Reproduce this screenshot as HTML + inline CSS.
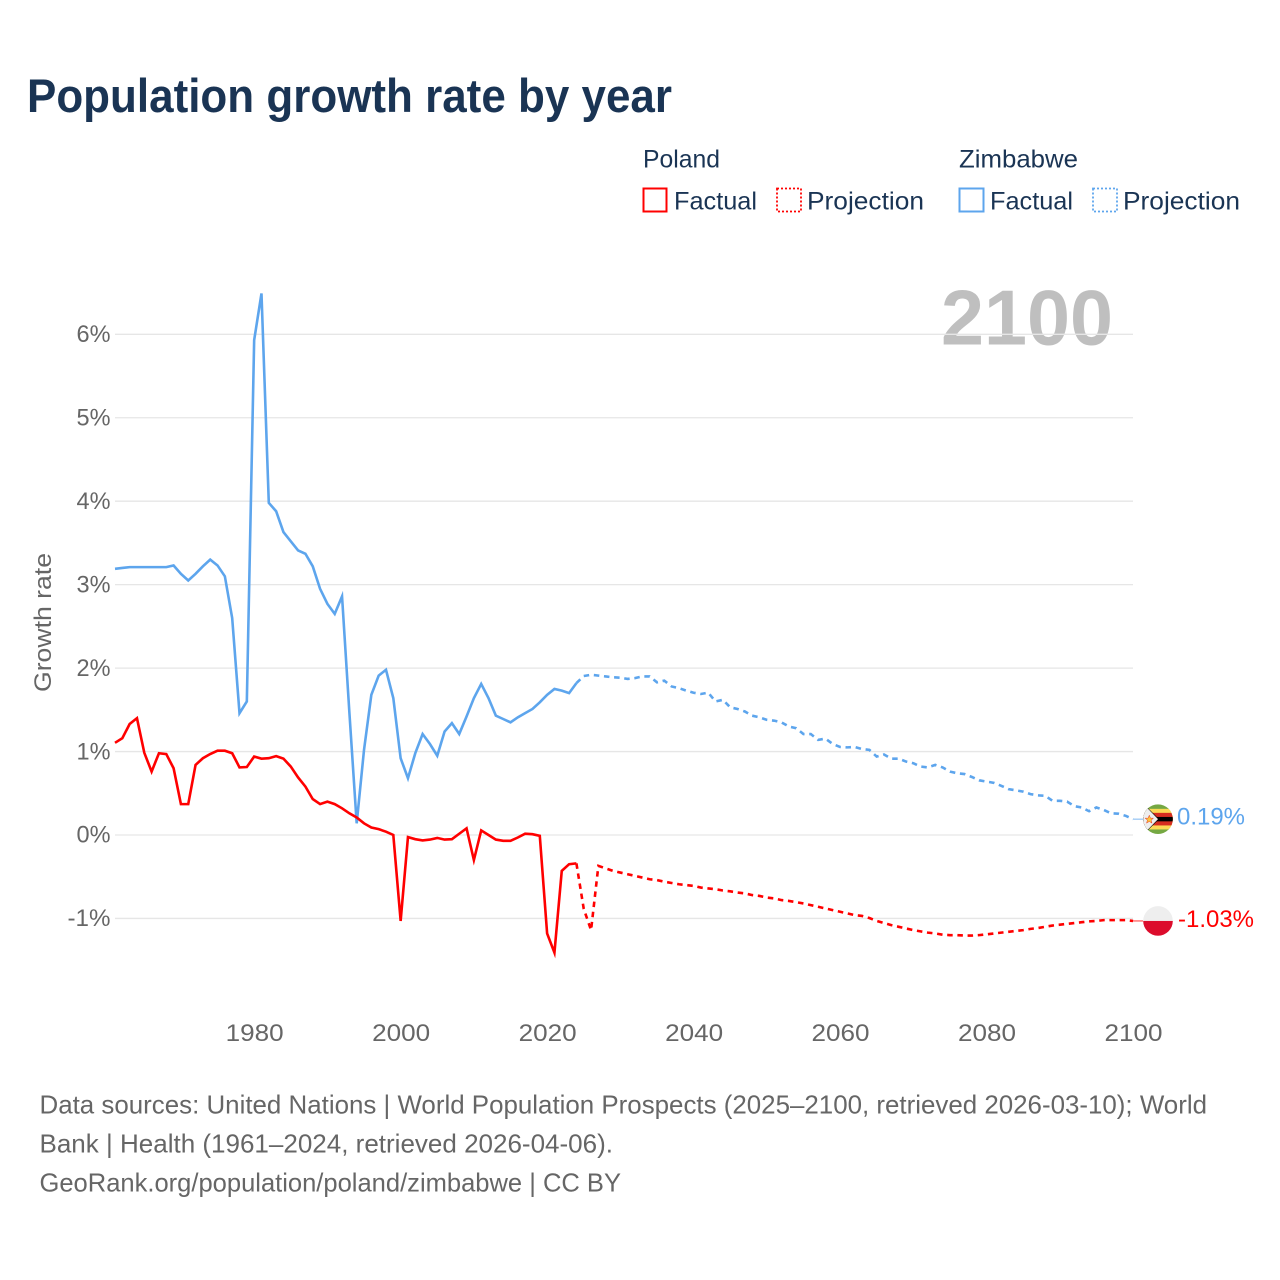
<!DOCTYPE html>
<html lang="en">
<head>
<meta charset="utf-8">
<title>Population growth rate by year</title>
<style>
html,body{margin:0;padding:0;background:#fff;width:1280px;height:1280px;overflow:hidden}
svg{display:block}
text{font-family:"Liberation Sans",sans-serif}
</style>
</head>
<body>
<svg id="chart" xmlns="http://www.w3.org/2000/svg" width="1280" height="1280" viewBox="0 0 1280 1280">
  <defs>
    <clipPath id="flag-clip"><circle cx="0" cy="0" r="14.8"/></clipPath>
  </defs>
  <rect x="0" y="0" width="1280" height="1280" fill="#fff"/>
  <text x="27" y="112" font-size="47" font-weight="700" fill="#1a3454" textLength="645" lengthAdjust="spacingAndGlyphs">Population growth rate by year</text>

  <g font-size="25" fill="#1a3454">
    <text x="643" y="167.5" textLength="77" lengthAdjust="spacingAndGlyphs">Poland</text>
    <text x="959" y="167.5" textLength="119" lengthAdjust="spacingAndGlyphs">Zimbabwe</text>
    <g>
      <rect x="643.5" y="188.5" width="23" height="23" fill="none" stroke="#ff0000" stroke-width="2"/>
      <text x="674" y="209.5" textLength="83" lengthAdjust="spacingAndGlyphs">Factual</text>
    </g>
    <g>
      <rect x="777" y="188.5" width="24" height="23" fill="none" stroke="#ff0000" stroke-width="1.8" stroke-dasharray="2 2"/>
      <text x="807" y="209.5" textLength="117" lengthAdjust="spacingAndGlyphs">Projection</text>
    </g>
    <g>
      <rect x="959.5" y="188.5" width="24" height="23" fill="none" stroke="#5da5ed" stroke-width="2"/>
      <text x="990" y="209.5" textLength="83" lengthAdjust="spacingAndGlyphs">Factual</text>
    </g>
    <g>
      <rect x="1093" y="188.5" width="24" height="23" fill="none" stroke="#5da5ed" stroke-width="1.8" stroke-dasharray="2 2"/>
      <text x="1123" y="209.5" textLength="117" lengthAdjust="spacingAndGlyphs">Projection</text>
    </g>
  </g>

  <text x="941" y="344.5" font-size="78" font-weight="700" fill="#bfbfbf" textLength="172" lengthAdjust="spacingAndGlyphs">2100</text>
  <g id="grid"></g>
  <g id="y-axis"></g>
  <g id="x-axis"></g>
  <text transform="translate(51 622.5) rotate(-90)" text-anchor="middle" font-size="24" fill="#666" textLength="139" lengthAdjust="spacingAndGlyphs">Growth rate</text>
  <g id="series"></g>
  <g id="end-markers"></g>

  <g font-size="26" fill="#666">
    <text x="39.5" y="1113.5" textLength="1167.5" lengthAdjust="spacingAndGlyphs">Data sources: United Nations | World Population Prospects (2025–2100, retrieved 2026-03-10); World</text>
    <text x="39.5" y="1152.5" textLength="573.5" lengthAdjust="spacingAndGlyphs">Bank | Health (1961–2024, retrieved 2026-04-06).</text>
    <text x="39.5" y="1191.5" textLength="581.5" lengthAdjust="spacingAndGlyphs">GeoRank.org/population/poland/zimbabwe | CC BY</text>
  </g>
</svg>
<script>
const xTickYears = [1980, 2000, 2020, 2040, 2060, 2080, 2100];
const yTickValues = [-1, 0, 1, 2, 3, 4, 5, 6];
const factualStartYear = 1961;
const projectionStartYear = 2024;

const polandFactual = [
  1.105, 1.16, 1.33, 1.40, 0.985, 0.76, 0.98, 0.97, 0.80, 0.37,
  0.37, 0.84, 0.92, 0.97, 1.01, 1.01, 0.98, 0.81, 0.815, 0.94,
  0.915, 0.92, 0.945, 0.915, 0.82, 0.69, 0.58, 0.43, 0.37, 0.40,
  0.37, 0.32, 0.26, 0.21, 0.14, 0.09, 0.07, 0.04, 0.0, -1.03,
  -0.025, -0.05, -0.065, -0.055, -0.035, -0.055, -0.05, 0.015, 0.08, -0.30,
  0.055, 0.0, -0.055, -0.07, -0.07, -0.03, 0.015, 0.01, -0.01, -1.18,
  -1.41, -0.43, -0.35, -0.34
];
const polandProjection = [
  -0.34, -0.885, -1.14, -0.37, -0.40, -0.43, -0.45, -0.47, -0.49, -0.51,
  -0.53, -0.54, -0.56, -0.575, -0.59, -0.60, -0.61, -0.63, -0.64, -0.65,
  -0.665, -0.675, -0.69, -0.70, -0.72, -0.73, -0.75, -0.76, -0.78, -0.79,
  -0.805, -0.82, -0.84, -0.86, -0.88, -0.90, -0.92, -0.94, -0.96, -0.97,
  -0.995, -1.03, -1.055, -1.08, -1.10, -1.12, -1.14, -1.155, -1.17, -1.18,
  -1.195, -1.20, -1.20, -1.205, -1.205, -1.20, -1.19, -1.18, -1.17, -1.16,
  -1.15, -1.14, -1.125, -1.115, -1.10, -1.085, -1.075, -1.065, -1.055, -1.045,
  -1.035, -1.03, -1.02, -1.02, -1.02, -1.02, -1.03
];
const zimbabweFactual = [
  3.19, 3.20, 3.21, 3.21, 3.21, 3.21, 3.21, 3.21, 3.23, 3.13,
  3.05, 3.13, 3.22, 3.30, 3.23, 3.10, 2.60, 1.46, 1.60, 5.93,
  6.49, 3.98, 3.88, 3.63, 3.52, 3.41, 3.37, 3.22, 2.95, 2.77,
  2.65, 2.86, 1.47, 0.14, 1.02, 1.68, 1.91, 1.98, 1.64, 0.92,
  0.68, 0.98, 1.21, 1.09, 0.95, 1.24, 1.34, 1.21, 1.42, 1.64,
  1.81, 1.64, 1.43, 1.39, 1.35, 1.41, 1.46, 1.51, 1.59, 1.68,
  1.75, 1.73, 1.70, 1.82
];
const zimbabweProjection = [
  1.82, 1.905, 1.92, 1.91, 1.90, 1.89, 1.885, 1.87, 1.88, 1.90,
  1.90, 1.83, 1.85, 1.78, 1.76, 1.73, 1.705, 1.69, 1.705, 1.60,
  1.62, 1.53, 1.51, 1.48, 1.43, 1.41, 1.38, 1.37, 1.35, 1.30,
  1.28, 1.21, 1.21, 1.14, 1.155, 1.09, 1.055, 1.05, 1.055, 1.03,
  1.02, 0.94, 0.965, 0.915, 0.915, 0.88, 0.86, 0.82, 0.81, 0.84,
  0.81, 0.76, 0.74, 0.73, 0.695, 0.655, 0.64, 0.625, 0.59, 0.55,
  0.535, 0.52, 0.49, 0.475, 0.47, 0.41, 0.41, 0.40, 0.345, 0.33,
  0.285, 0.33, 0.30, 0.26, 0.255, 0.23, 0.19
];

const NS = 'http://www.w3.org/2000/svg';
function xScale(year) { return 115 + (year - 1961) * 7.324; }
function yScale(value) { return 835 - value * 83.45; }
function make(parent, tag, attrs) {
  const el = document.createElementNS(NS, tag);
  for (const k in attrs) el.setAttribute(k, attrs[k]);
  parent.appendChild(el);
  return el;
}
function linePoints(values, startYear) {
  return values.map(function (v, i) {
    return xScale(startYear + i).toFixed(2) + ',' + yScale(v).toFixed(2);
  }).join(' ');
}

const gridGroup = document.getElementById('grid');
const yAxisGroup = document.getElementById('y-axis');
yTickValues.forEach(function (v) {
  const line = make(gridGroup, 'line', { x1: 115, x2: 1133, y1: yScale(v), y2: yScale(v), stroke: '#e6e6e6', 'stroke-width': 1.3 });
  
  
  const label = make(yAxisGroup, 'text', { x: 110.5, y: yScale(v) + 7.7, 'text-anchor': 'end', 'font-size': 24, fill: '#666', textLength: v < 0 ? 43 : 34, lengthAdjust: 'spacingAndGlyphs' });
  
  
  label.textContent = v + '%';
});

const xAxisGroup = document.getElementById('x-axis');
xTickYears.forEach(function (year) {
  const label = make(xAxisGroup, 'text', { x: xScale(year) + 0.5, y: 1041, 'text-anchor': 'middle', 'font-size': 24, fill: '#666', textLength: 58, lengthAdjust: 'spacingAndGlyphs' });
  
  
  label.textContent = String(year);
});

const seriesGroup = document.getElementById('series');
const redColor = '#ff0000';
const blueColor = '#5da5ed';

const zimFactualLine = make(seriesGroup, 'polyline', { points: linePoints(zimbabweFactual, factualStartYear), fill: 'none', stroke: blueColor, 'stroke-width': 2.6, 'stroke-linejoin': 'miter', 'stroke-miterlimit': 10 });



const zimProjectionLine = make(seriesGroup, 'polyline', { points: linePoints(zimbabweProjection, projectionStartYear), fill: 'none', stroke: blueColor, 'stroke-width': 2.6, 'stroke-dasharray': '5.5 4.7' });



const polFactualLine = make(seriesGroup, 'polyline', { points: linePoints(polandFactual, factualStartYear), fill: 'none', stroke: redColor, 'stroke-width': 2.6, 'stroke-linejoin': 'miter', 'stroke-miterlimit': 10 });



const polProjectionLine = make(seriesGroup, 'polyline', { points: linePoints(polandProjection, projectionStartYear), fill: 'none', stroke: redColor, 'stroke-width': 2.6, 'stroke-dasharray': '5.5 4.7' });



const markersGroup = document.getElementById('end-markers');
const lastYear = xScale(2100);
const zimLast = zimbabweProjection[zimbabweProjection.length - 1];
const polLast = polandProjection[polandProjection.length - 1];

const zimConnector = make(markersGroup, 'line', { x1: lastYear, x2: 1143, y1: yScale(zimLast), y2: yScale(zimLast), stroke: blueColor, 'stroke-width': 1, opacity: 0.8 });


const polConnector = make(markersGroup, 'line', { x1: lastYear, x2: 1143, y1: yScale(polLast), y2: yScale(polLast), stroke: redColor, 'stroke-width': 1, opacity: 0.8 });



const zimFlag = make(markersGroup, 'g', { transform: 'translate(1158 ' + yScale(zimLast) + ')', 'clip-path': 'url(#flag-clip)' });


make(zimFlag, 'rect', { x: -15, y: -15, width: 30, height: 30, fill: '#75a843' });
make(zimFlag, 'rect', { x: -15, y: -10.3, width: 30, height: 20.6, fill: '#fcd955' });
make(zimFlag, 'rect', { x: -15, y: -6.3, width: 30, height: 12.6, fill: '#d62d20' });
make(zimFlag, 'rect', { x: -15, y: -2.2, width: 30, height: 4.4, fill: '#000' });
make(zimFlag, 'polygon', { points: '-15,-15 -14,-15 1,0 -14,15 -15,15', fill: '#000' });
make(zimFlag, 'polygon', { points: '-15,-13 -12.5,-13 0,0 -12.5,13 -15,13', fill: '#eee' });
make(zimFlag, 'polygon', { points: '-8.7,-4 -7.5,-1 -4.5,-1 -6.8,1 -6,4 -8.7,2.3 -11.4,4 -10.6,1 -12.9,-1 -9.9,-1', fill: '#fcc43a', stroke: '#e5352b', 'stroke-width': 0.5 });

const polFlag = make(markersGroup, 'g', { transform: 'translate(1158 ' + yScale(polLast) + ')', 'clip-path': 'url(#flag-clip)' });


make(polFlag, 'rect', { x: -15, y: -15, width: 30, height: 15, fill: '#eeeeee' });
make(polFlag, 'rect', { x: -15, y: 0, width: 30, height: 15, fill: '#dc0c2c' });

const zimEndLabel = make(markersGroup, 'text', { x: 1177, y: yScale(zimLast) + 5.5, 'font-size': 24, fill: blueColor, textLength: 68, lengthAdjust: 'spacingAndGlyphs' });


zimEndLabel.textContent = zimLast.toFixed(2) + '%';

const polEndLabel = make(markersGroup, 'text', { x: 1178, y: yScale(polLast) + 6, 'font-size': 24, fill: redColor, textLength: 76, lengthAdjust: 'spacingAndGlyphs' });


polEndLabel.textContent = polLast.toFixed(2) + '%';
</script>
</body>
</html>
